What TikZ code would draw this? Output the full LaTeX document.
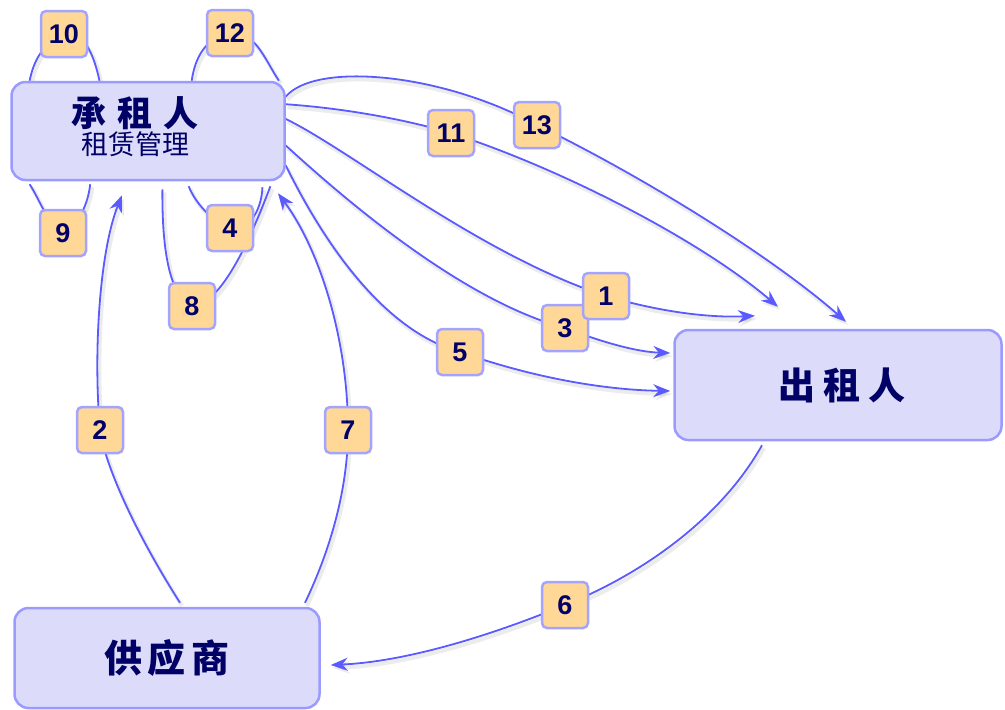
\documentclass[tikz,border=0pt]{standalone}
\usepackage{fontspec}
\setmainfont{Liberation Sans}
\newfontfamily\cjk{Noto Sans CJK SC}
\usetikzlibrary{arrows.meta,calc}
\definecolor{boxfill}{HTML}{DCDCFA}
\definecolor{boxline}{HTML}{9A9AFF}
\definecolor{numfill}{HTML}{FFD898}
\definecolor{numline}{HTML}{A4A4FF}
\definecolor{linkblue}{HTML}{5A5AFF}
\definecolor{navy}{HTML}{000066}
\pgfdeclarelayer{bg}
\pgfsetlayers{bg,main}
\begin{document}
\begin{tikzpicture}[x=1pt,y=-1pt,
  box/.style={draw=boxline, fill=boxfill, line width=2.5pt, rounded corners=14pt, inner sep=0pt},
  num/.style={draw=numline, fill=numfill, line width=2.5pt, rounded corners=5pt,
    minimum width=46pt, minimum height=46pt, inner sep=3pt, text=navy,
    font=\bfseries\fontsize{27}{27}\selectfont},
  shd/.style={preaction={draw=black!60, opacity=0.12, line width=4pt,
    transform canvas={shift={(2pt,-3pt)}}}},
  link/.style={draw=linkblue, line width=1.8pt, shd},
  arr/.style={link, -{Stealth[length=17pt,width=13pt]}}
]
\useasboundingbox (0,0) rectangle (1005,710);

% main boxes
\node[box, minimum width=273pt, minimum height=98pt] (rent) at (148,131) {};
\node[text=navy, align=center, inner sep=0pt] (renttxt) at (135,127)
  {{\cjk\bfseries\fontsize{35}{38}\selectfont 承\hspace{11pt}租\hspace{11pt}人}\\[1pt]
   {\cjk\fontsize{27}{29}\selectfont 租赁管理}};
\node[box, minimum width=327pt, minimum height=110pt, text=navy,
  font=\cjk\bfseries\fontsize{37}{40}\selectfont] (lessor) at (838,385)
  {\hspace{8pt}出\hspace{8pt}租\hspace{8pt}人};
\node[box, minimum width=305pt, minimum height=100pt, text=navy,
  font=\cjk\bfseries\fontsize{38}{40}\selectfont] (supp) at (167,658)
  {供\hspace{6pt}应\hspace{6pt}商\hspace{14pt}};

% labels
\node[num] (l10) at (64,34) {10};
\node[num] (l12) at (230,33) {12};
\node[num] (l9) at (63,233) {9};
\node[num] (l4) at (230,228) {4};
\node[num] (l8) at (192,306) {8};
\node[num] (l2) at (100,430) {2};
\node[num] (l7) at (348,430) {7};
\node[num] (l11) at (451,133) {11};
\node[num] (l13) at (537,125) {13};
\node[num] (l3) at (565,328) {3};
\node[num] (l1) at (606,296) {1};
\node[num] (l5) at (460,352) {5};
\node[num] (l6) at (565,605) {6};

\begin{pgfonlayer}{bg}
% self loops
\draw[link] (rent.157.8) .. controls (34,60) and (42,45) .. (l10.center)
  .. controls (86,30) and (95,60) .. (rent.134.4);
\draw[link] (rent.49.4) .. controls (195,58) and (205,38) .. (l12.center)
  .. controls (255,30) and (265,60) .. (rent.21.9);
\draw[link] ($(rent.203.8)+(0,3)$) .. controls (40,200) and (48,225) .. (l9.center)
  .. controls (78,225) and (88,205) .. ($(rent.221.7)+(0,3)$);
\draw[link] ($(rent.309.2)+(0,5)$) .. controls (195,202) and (210,220) .. (l4.center)
  .. controls (252,232) and (262,205) .. ($(rent.337.8)+(-4,6)$);
\draw[link] ($(rent.286)+(0,8)$) .. controls (162,235) and (166,295) .. (l8.center)
  .. controls (222,305) and (252,235) .. ($(rent.338.7)+(-2,5)$);
% supplier to lessee
\draw[arr] ($(supp.north)+(13,-4)$) .. controls (140,540) and (106,470) .. (l2.center)
  .. controls (93,350) and (100,250) .. ($(rent.south)+(-26,14)$);
\draw[arr] ($(supp.north)+(138,-4)$) .. controls (335,540) and (348,480) .. (l7.center)
  .. controls (348,340) and (320,250) .. ($(rent.south)+(130,12)$);
% lessee to lessor
\draw[arr] (rent.11.6) .. controls (340,108) and (400,118) .. (l11.center)
  .. controls (560,168) and (700,240) .. ($(lessor.north)+(-60,-22)$);
\draw[arr] (rent.14.8) .. controls (315,62) and (440,72) .. (l13.center)
  .. controls (640,175) and (770,255) .. ($(lessor.north)+(8,-7)$);
\draw[arr] (rent.5.9) .. controls (350,150) and (480,255) .. (l1.center)
  .. controls (660,312) and (710,318) .. ($(lessor.north)+(-83,-13)$);
\draw[arr] (rent.354.1) .. controls (340,195) and (460,300) .. (l3.center)
  .. controls (610,345) and (640,352) .. ($(lessor.west)+(-3,-32)$);
\draw[arr] (rent.346) .. controls (320,235) and (380,330) .. (l5.center)
  .. controls (540,380) and (610,390) .. ($(lessor.west)+(-3,6)$);
% lessor to supplier
\draw[arr] ($(lessor.south)+(-76,4)$) .. controls (720,520) and (640,575) .. (l6.center)
  .. controls (480,640) and (400,662) .. ($(supp.east)+(10,7)$);
\end{pgfonlayer}
\end{tikzpicture}
\end{document}
